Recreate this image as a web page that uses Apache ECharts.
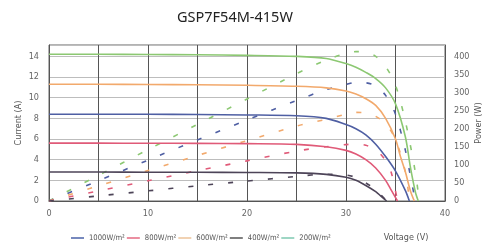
<!DOCTYPE html>
<html>
<head>
<meta charset="utf-8">
<script src="https://cdn.jsdelivr.net/npm/echarts@6/dist/echarts.min.js"></script>
<style>
html,body{margin:0;padding:0;background:#fff;}
#c{width:484px;height:244px;}
</style>
</head>
<body>
<div id="c"></div>
<script>
// ---- data ----
const legendNames = ['1000W/m²', '800W/m²', '600W/m²', '400W/m²', '200W/m²'];
const xTicks = [0, 10, 20, 30, 40];

// I-V curves (solid, left axis)
const vBlue   = [0, 5, 10, 15, 20, 25, 28, 30, 31, 32, 33, 34, 35, 36, 36.4];
const iBlue   = [8.4, 8.4, 8.39, 8.37, 8.33, 8.25, 8.0, 7.4, 7.0, 6.4, 5.5, 4.3, 2.9, 1.0, 0];
const vRed    = [0, 5, 10, 15, 20, 25, 28, 30, 31, 32, 33, 34, 34.6, 35.2];
const iRed    = [5.6, 5.6, 5.59, 5.58, 5.55, 5.48, 5.25, 4.9, 4.55, 4.0, 3.2, 2.0, 1.0, 0];
const vOrange = [0, 5, 10, 15, 20, 25, 28, 30, 31, 32, 33, 34, 35, 35.5, 36, 36.5, 36.9];
const iOrange = [11.3, 11.3, 11.28, 11.25, 11.2, 11.1, 10.95, 10.65, 10.35, 9.9, 9.25, 8.0, 6.0, 4.3, 2.8, 1.0, 0];
const vDark   = [0, 5, 10, 15, 20, 25, 28, 30, 31, 32, 33, 33.5, 34.1];
const iDark   = [2.8, 2.8, 2.79, 2.78, 2.76, 2.72, 2.58, 2.3, 2.0, 1.5, 0.9, 0.5, 0];
const vGreen  = [0, 5, 10, 15, 20, 25, 28, 30, 31, 32, 33, 34, 35, 36, 36.5, 37, 37.3];
const iGreen  = [14.2, 14.2, 14.18, 14.15, 14.1, 14.0, 13.8, 13.3, 12.95, 12.45, 11.85, 10.95, 9.4, 6.2, 3.3, 0.9, 0];

// P-V curves (dashed, right axis)
const pvBlue   = [0, 5, 10, 15, 20, 25, 28, 30, 31, 32, 33, 34, 35, 36, 36.5, 37];
const pBlue    = [0, 56, 113, 169, 224, 278, 308, 322, 328, 327, 318, 292, 240, 140, 70, 0];
const pvRed    = [0, 5, 10, 15, 20, 25, 28, 30, 31, 32, 33, 34, 34.6, 35.2];
const pRed     = [0, 28, 56, 84, 111, 138, 150, 156, 158, 154, 142, 112, 76, 0];
const pvOrange = [0, 5, 10, 15, 20, 25, 28, 30, 31, 32, 33, 34, 35, 36, 36.4];
const pOrange  = [0, 42, 84, 126, 167, 207, 226, 240, 245, 244, 234, 214, 170, 80, 0];
const pvDark   = [0, 5, 10, 15, 20, 25, 28, 30, 31, 32, 33, 33.5, 34.1];
const pDark    = [0, 14, 28, 42, 55, 68, 74, 72, 65, 50, 32, 18, 0];
const pvGreen  = [0, 5, 10, 15, 20, 25, 28, 30, 31, 32, 33, 34, 35, 36, 37, 37.4];
const pGreen   = [0, 71, 142, 212, 282, 352, 390, 408, 413, 412, 400, 372, 320, 220, 80, 0];

// ---- styles ----
const colors = { blue: '#4f5fa3', red: '#e05a78', orange: '#f2a96c', dark: '#4d4458', green: '#8cc872' };
const legendColors = ['#4a62a8', '#e46a82', '#ecc39a', '#555555', '#7ec8b0'];
const narrow = "'Liberation Sans Narrow', 'DejaVu Sans Condensed', sans-serif";

function zip(a, b) { return a.map((v, i) => [v, b[i]]); }

function solid(name, color, v, i) {
  return { name, type: 'line', yAxisIndex: 0, data: zip(v, i), showSymbol: false, smooth: 0.3,
    lineStyle: { color, width: 1.6 }, itemStyle: { color }, z: 3 };
}
function dashed(name, color, v, p) {
  return { name, type: 'line', yAxisIndex: 1, data: zip(v, p), showSymbol: false, smooth: 0.3,
    lineStyle: { color, width: 1.6, type: [5, 15] }, itemStyle: { color }, z: 2 };
}

const chart = echarts.init(document.getElementById('c'), null, { renderer: 'canvas' });
chart.setOption({
  animation: false,
  backgroundColor: '#fff',
  title: {
    text: 'GSP7F54M-415W', left: 172, top: 5,
    textStyle: { fontFamily: "'Noto Sans', sans-serif", fontSize: 14.5, fontWeight: 'normal', color: '#222' }
  },
  grid: { left: 49, right: 39, top: 45, bottom: 43, containLabel: false, outerBoundsMode: 'none',
    show: true, borderColor: '#666', borderWidth: 1, backgroundColor: 'transparent' },
  legend: {
    left: 66, top: 229, itemGap: 2, itemWidth: 13, itemHeight: 1.5, icon: 'rect',
    textStyle: { fontFamily: narrow, fontSize: 7.6, color: '#555' },
    data: legendNames.map((n, k) => ({ name: n, itemStyle: { color: legendColors[k] } }))
  },
  xAxis: {
    type: 'value', min: 0, max: 40, interval: 5,
    name: 'Voltage (V)', nameLocation: 'middle', nameGap: 32, nameMoveOverlap: false,
    nameTextStyle: { fontFamily: narrow, fontSize: 9, color: '#555', padding: [0, 0, 0, 318] },
    axisLine: { show: true, lineStyle: { color: '#555' } },
    axisTick: { show: false },
    axisLabel: { margin: 8, fontFamily: narrow, fontSize: 9, color: '#666',
      formatter: v => (xTicks.indexOf(v) >= 0 ? String(v) : '') },
    splitLine: { show: true, lineStyle: { color: '#555', width: 1 } }
  },
  yAxis: [
    {
      type: 'value', min: 0, max: 15.1, interval: 2, position: 'left',
      name: 'Current (A)', nameLocation: 'middle', nameGap: 26, nameRotate: 90, nameMoveOverlap: false,
      nameTextStyle: { fontFamily: narrow, fontSize: 9, color: '#555' },
      axisLine: { show: true, lineStyle: { color: '#555' } },
      axisTick: { show: false },
      axisLabel: { margin: 10, fontFamily: narrow, fontSize: 9, color: '#666', showMaxLabel: false },
      splitLine: { show: true, lineStyle: { color: '#bdbdbd', width: 1 } }
    },
    {
      type: 'value', min: 0, max: 431.4, interval: 50, position: 'right',
      name: 'Power (W)', nameLocation: 'middle', nameGap: 29, nameRotate: 90, nameMoveOverlap: false,
      nameTextStyle: { fontFamily: narrow, fontSize: 9, color: '#555' },
      axisLine: { show: true, lineStyle: { color: '#555' } },
      axisTick: { show: false },
      axisLabel: { margin: 9, fontFamily: narrow, fontSize: 9, color: '#666', showMaxLabel: false },
      splitLine: { show: false }
    }
  ],
  series: [
    dashed(legendNames[4], colors.green, pvGreen, pGreen),
    dashed(legendNames[0], colors.blue, pvBlue, pBlue),
    dashed(legendNames[2], colors.orange, pvOrange, pOrange),
    dashed(legendNames[1], colors.red, pvRed, pRed),
    dashed(legendNames[3], colors.dark, pvDark, pDark),
    solid(legendNames[0], colors.blue, vBlue, iBlue),
    solid(legendNames[1], colors.red, vRed, iRed),
    solid(legendNames[2], colors.orange, vOrange, iOrange),
    solid(legendNames[3], colors.dark, vDark, iDark),
    solid(legendNames[4], colors.green, vGreen, iGreen)
  ]
});
</script>
</body>
</html>
